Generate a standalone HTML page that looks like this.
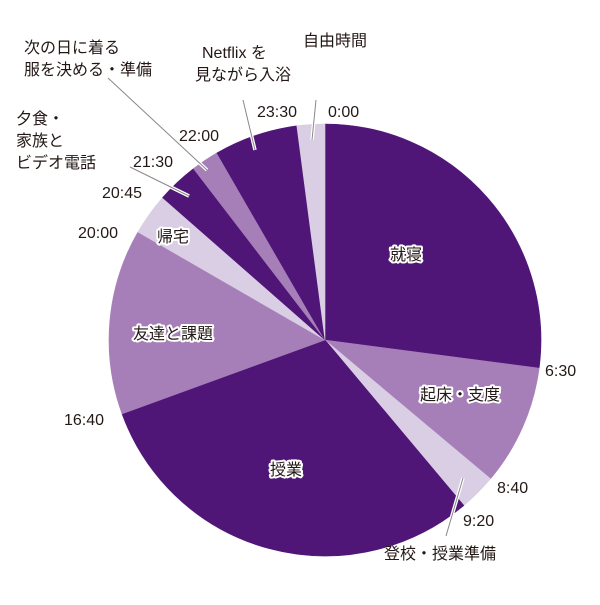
<!DOCTYPE html>
<html><head><meta charset="utf-8"><style>
html,body{margin:0;padding:0;background:#fff;}
svg text{font-family:"Liberation Sans","Noto Sans CJK JP",sans-serif;font-size:16px;fill:#231815;}
svg .in text{stroke:#fff;stroke-width:4px;paint-order:stroke;stroke-linejoin:round;}
</style></head><body>
<svg id="s" width="600" height="600" viewBox="0 0 600 600" xmlns="http://www.w3.org/2000/svg">
<g id="pie"></g>
<g fill="none" stroke-linecap="butt">
<g stroke="#fff" stroke-width="3.5">
<line x1="108" y1="78" x2="207" y2="170"/>
<line x1="130" y1="167" x2="189" y2="196"/>
<line x1="243" y1="100" x2="255" y2="150"/>
<line x1="316" y1="100" x2="312" y2="140"/>
<line x1="463" y1="478" x2="446" y2="536"/>
</g>
<g stroke="#888" stroke-width="1">
<line x1="108" y1="78" x2="207" y2="170"/>
<line x1="130" y1="167" x2="189" y2="196"/>
<line x1="243" y1="100" x2="255" y2="150"/>
<line x1="316" y1="100" x2="312" y2="140"/>
<line x1="463" y1="478" x2="446" y2="536"/>
</g>
</g>
<g class="in">
<text x="390" y="260">就寝</text>
<text x="420" y="400">起床・支度</text>
<text x="270" y="475">授業</text>
<text x="133" y="339">友達と課題</text>
<text x="157" y="242">帰宅</text>
</g>
<g>
<text x="303" y="46">自由時間</text>
<text x="202" y="58">Netflix を</text>
<text x="195" y="80">見ながら入浴</text>
<text x="24" y="53">次の日に着る</text>
<text x="24" y="75">服を決める・準備</text>
<text x="16" y="124">夕食・</text>
<text x="16" y="146">家族と</text>
<text x="16" y="168">ビデオ電話</text>
<text x="328" y="117">0:00</text>
<text x="257" y="117">23:30</text>
<text x="179" y="141">22:00</text>
<text x="133" y="167">21:30</text>
<text x="102" y="198">20:45</text>
<text x="78" y="238">20:00</text>
<text x="64" y="425">16:40</text>
<text x="545" y="376">6:30</text>
<text x="497" y="493">8:40</text>
<text x="463" y="526">9:20</text>
<text x="384" y="559">登校・授業準備</text>
</g>
</svg>
<script>
var cx=325,cy=340,r=216,D="#4f1577",M="#a67fb9",L="#d9cee4";
var seg=[[0,6.5,D],[6.5,8+40/60,M],[8+40/60,9+20/60,L],[9+20/60,16+40/60,D],[16+40/60,20,M],[20,20.75,L],[20.75,21.5,D],[21.5,22,M],[22,23.5,D],[23.5,24,L]];
var g=document.getElementById("pie"),h="";
function pt(t){var a=t/24*2*Math.PI;return [cx+r*Math.sin(a),cy-r*Math.cos(a)];}
seg.forEach(function(s){var p=pt(s[0]),q=pt(s[1]),lg=(s[1]-s[0])>12?1:0;
h+='<path d="M'+cx+','+cy+'L'+p[0].toFixed(2)+','+p[1].toFixed(2)+'A'+r+','+r+' 0 '+lg+' 1 '+q[0].toFixed(2)+','+q[1].toFixed(2)+'Z" fill="'+s[2]+'" stroke="'+s[2]+'" stroke-width="0.6"/>';});
g.innerHTML=h;
</script>
</body></html>
